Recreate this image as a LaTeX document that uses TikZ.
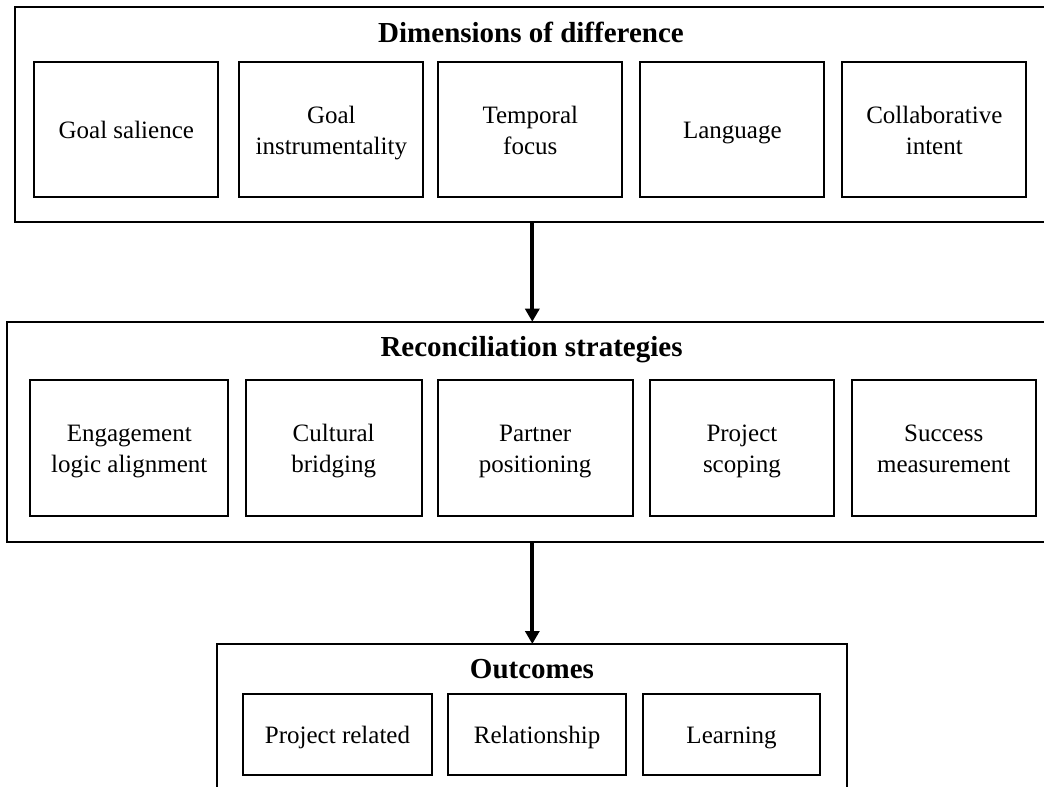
\documentclass[tikz,border=0pt]{standalone}
\usepackage{fontspec}
\setmainfont{Liberation Serif}
\usetikzlibrary{arrows.meta,positioning}
\tikzset{
  grp/.style={draw, line width=1pt, inner sep=0pt, outer sep=0pt, anchor=north west},
  itm/.style={draw, line width=1pt, align=center, inner sep=2pt, outer sep=0pt,
              font=\fontsize{12.5}{15.3}\selectfont},
  itmA/.style={itm, minimum height=67.8pt},
  itmC/.style={itm, minimum height=40.5pt},
  oneln/.style={text height=9pt, text depth=0.2pt},
  twoln/.style={text height=24.7pt, text depth=0.2pt},
  hdr/.style={font=\fontsize{14.5}{17}\selectfont\bfseries, inner sep=0pt, anchor=base},
  flow/.style={-{Triangle[length=6.5pt,width=7pt]}, line width=2pt},
}
\begin{document}
\begin{tikzpicture}[x=0.5pt, y=-0.5pt]
    \useasboundingbox (0,0) rectangle (1044,787);
    \clip (0,0) rectangle (1044,787);
    % group frames
    \node[grp, minimum width=516pt, minimum height=107.2pt] (dims) at (15,7.3) {};
    \node[grp, minimum width=520.5pt, minimum height=110pt] (recon) at (6.7,321.7) {};
    \node[grp, minimum width=315pt, minimum height=75pt] (outc) at (217.3,644) {};
    \node[hdr] (dimsT) at (531,42.3) {Dimensions of difference};
    \node[hdr] (reconT) at (531.5,356.7) {Reconciliation strategies};
    \node[hdr] (outcT) at (532,678.3) {Outcomes};
    % row 1
    \node[itmA, oneln, minimum width=92pt, anchor=north west] (gs) at (34.3,61.7) {Goal salience};
    \node[itmA, twoln, minimum width=92pt, right=10.5pt of gs] (gi) {Goal\\instrumentality};
    \node[itmA, twoln, minimum width=92pt, right=7.5pt of gi] (tf) {Temporal\\focus};
    \node[itmA, oneln, minimum width=92pt, right=9pt of tf] (lg) {Language};
    \node[itmA, twoln, minimum width=92pt, right=9pt of lg] (ci) {Collaborative\\intent};
    % row 2
    \node[itmA, twoln, minimum width=99pt, anchor=north west] (ela) at (30.3,380) {Engagement\\logic alignment};
    \node[itmA, twoln, minimum width=87.8pt, right=8.8pt of ela] (cb) {Cultural\\bridging};
    \node[itmA, twoln, minimum width=97.3pt, right=8.2pt of cb] (pp) {Partner\\positioning};
    \node[itmA, twoln, minimum width=92pt, right=8.7pt of pp] (ps) {Project\\scoping};
    \node[itmA, twoln, minimum width=91.8pt, right=9pt of ps] (sm) {Success\\measurement};
    % row 3
    \node[itmC, oneln, minimum width=94.8pt, anchor=north west] (pr) at (242.7,694) {Project related};
    \node[itmC, oneln, minimum width=88.8pt, right=8pt of pr] (rel) {Relationship};
    \node[itmC, oneln, minimum width=88.3pt, right=8.7pt of rel] (lrn) {Learning};
    % arrows
    \draw[flow] (dims.south -| outc.north) -- (recon.north -| outc.north);
    \draw[flow] (recon.south -| outc.north) -- (outc.north);
\end{tikzpicture}
\end{document}
